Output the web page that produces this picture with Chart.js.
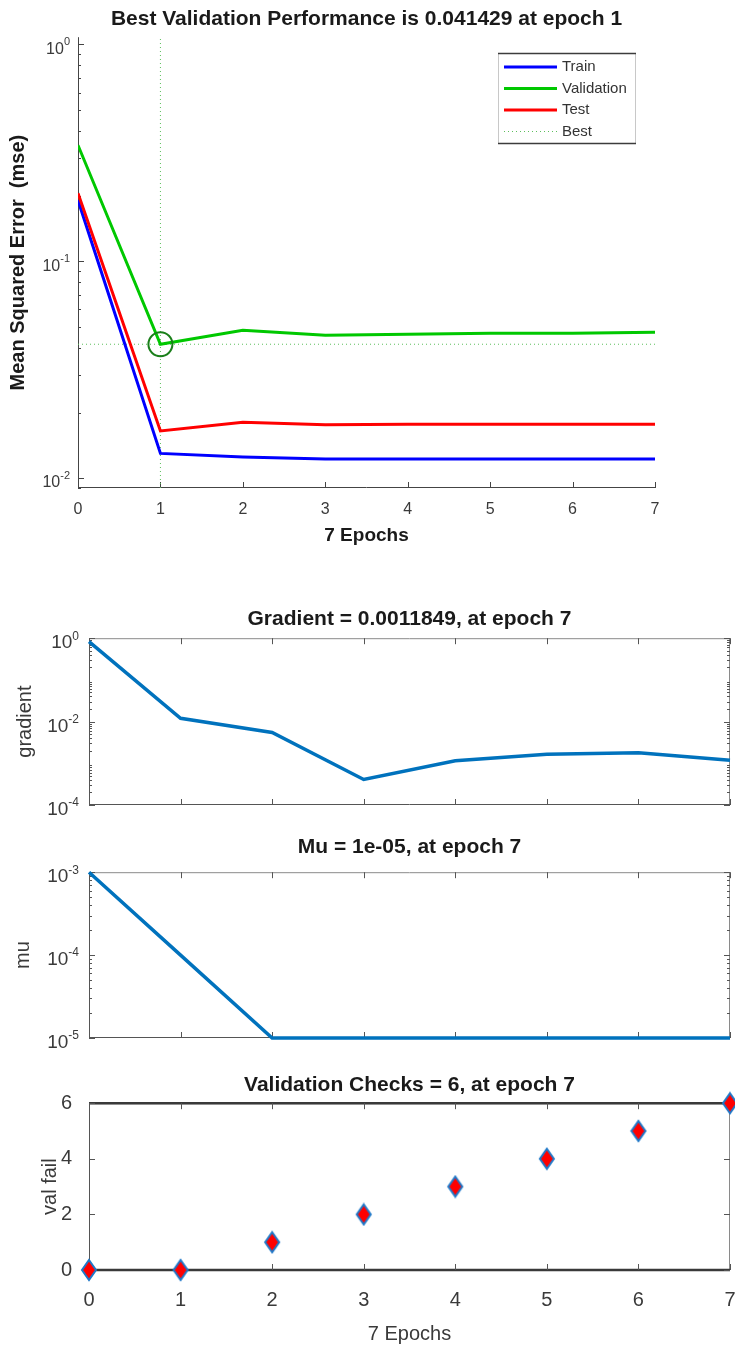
<!DOCTYPE html>
<html>
<head>
<meta charset="utf-8">
<title>Training record</title>
<script src="https://cdn.jsdelivr.net/npm/chart.js@4.4.1/dist/chart.umd.min.js"></script>
<style>
body{margin:0;background:#fff;width:735px;height:1348px;position:relative;overflow:hidden;}
canvas{position:absolute;left:0;}
</style>
</head>
<body>
<canvas id="perf" width="735" height="560" style="top:0"></canvas>
<canvas id="grad" width="735" height="240" style="top:590px"></canvas>
<canvas id="mu" width="735" height="230" style="top:830px"></canvas>
<canvas id="fail" width="735" height="288" style="top:1060px"></canvas>
<script>
// training record, one value per epoch
const epochs = [0, 1, 2, 3, 4, 5, 6, 7];
const trainMse = [0.191, 0.0130, 0.0125, 0.01224, 0.01224, 0.01224, 0.01224, 0.01224];
const valMse = [0.343, 0.041429, 0.0481, 0.0456, 0.0461, 0.0466, 0.0466, 0.0471];
const testMse = [0.206, 0.0165, 0.0181, 0.0176, 0.0177, 0.0177, 0.0177, 0.0177];
const bestEpoch = 1;
const bestPerf = 0.041429;
const gradient = [0.83, 0.012, 0.0055, 0.00041, 0.00115, 0.00165, 0.0018, 0.0011849];
const mu = [1e-3, 1e-4, 1e-5, 1e-5, 1e-5, 1e-5, 1e-5, 1e-5];
const valFail = [0, 0, 1, 2, 3, 4, 5, 6];

const perfTicks = [1, 0.1, 0.01];
const gradTicks = [1, 0.01, 0.0001];
const muTicks = [1e-3, 1e-4, 1e-5];
const failTicks = [0, 2, 4, 6];

const perfMin = 0.009, perfMax = 1.08;

const FONT = '"Liberation Sans", Arial, Helvetica, sans-serif';
Chart.defaults.font.family = FONT;
Chart.defaults.color = '#333';
Chart.defaults.animation = false;

const toXY = arr => arr.map((v, i) => ({x: epochs[i], y: v}));
const fixW = w => s => { s.width = w; };
// fixed height, and no extra side room for the end labels
const fixH = h => s => { s.height = h; s.paddingLeft = 0; s.paddingRight = 0; };

// matlab style axes: inward ticks, optional box, 10^n labels, legend
const axesDecor = {
  id: 'axesDecor',
  beforeDatasetsDraw(chart, args, o) {
    const {ctx, chartArea: a, scales: {x, y}} = chart;
    ctx.save();
    ctx.lineWidth = 1;
    if (o.box) {
      ctx.strokeStyle = o.boxColor;
      ctx.beginPath();
      ctx.moveTo(a.left, a.top + 0.5); ctx.lineTo(a.right, a.top + 0.5);
      ctx.moveTo(a.right - 0.5, a.top); ctx.lineTo(a.right - 0.5, a.bottom);
      ctx.stroke();
    }
    ctx.strokeStyle = o.axisColor;
    ctx.beginPath();
    ctx.moveTo(a.left + 0.5, a.top); ctx.lineTo(a.left + 0.5, a.bottom);
    ctx.moveTo(a.left, a.bottom - 0.5); ctx.lineTo(a.right, a.bottom - 0.5);
    ctx.stroke();
    if (o.heavy) {
      ctx.lineWidth = 2.5;
      ctx.strokeStyle = '#3a3a3a';
      ctx.beginPath();
      ctx.moveTo(a.left, a.top); ctx.lineTo(a.right, a.top);
      ctx.moveTo(a.left, a.bottom); ctx.lineTo(a.right, a.bottom);
      ctx.stroke();
    }
    // tick marks
    ctx.lineWidth = 1;
    ctx.strokeStyle = o.axisColor;
    ctx.beginPath();
    epochs.forEach(v => {
      const px = Math.round(x.getPixelForValue(v)) + 0.5;
      ctx.moveTo(px, a.bottom); ctx.lineTo(px, a.bottom - o.tickLen);
      if (o.box) { ctx.moveTo(px, a.top); ctx.lineTo(px, a.top + o.tickLen); }
    });
    const major = o.yTicks || [];
    major.forEach(v => {
      const py = Math.round(y.getPixelForValue(v)) + 0.5;
      ctx.moveTo(a.left, py); ctx.lineTo(a.left + o.tickLen, py);
      if (o.box) { ctx.moveTo(a.right, py); ctx.lineTo(a.right - o.tickLen, py); }
    });
    if (y.type === 'logarithmic') {
      const d0 = Math.floor(Math.log10(y.min)), d1 = Math.ceil(Math.log10(y.max));
      for (let d = d0; d <= d1; d++) {
        for (let k = 2; k <= 9; k++) {
          const v = k * Math.pow(10, d);
          if (v < y.min || v > y.max) continue;
          const py = Math.round(y.getPixelForValue(v)) + 0.5;
          ctx.moveTo(a.left, py); ctx.lineTo(a.left + o.tickLen / 2, py);
          if (o.box) { ctx.moveTo(a.right, py); ctx.lineTo(a.right - o.tickLen / 2, py); }
        }
      }
    }
    ctx.stroke();
    ctx.restore();
  },
  afterDraw(chart, args, o) {
    const {ctx, chartArea: a, scales: {y}} = chart;
    ctx.save();
    if (o.logLabels) {
      ctx.fillStyle = '#3a3a3a';
      ctx.textBaseline = 'middle';
      ctx.textAlign = 'right';
      o.yTicks.forEach(v => {
        const py = y.getPixelForValue(v);
        const e = String(Math.round(Math.log10(v)));
        const xr = a.left - o.labelGap;
        ctx.font = o.supSize + 'px ' + FONT;
        const ew = ctx.measureText(e).width;
        ctx.fillText(e, xr, py - 2);
        ctx.font = o.baseSize + 'px ' + FONT;
        ctx.fillText('10', xr - ew, py + 5);
      });
    }
    if (o.legend) {
      const L = o.legend;
      const items = chart.data.datasets.filter(ds => ds.inLegend);
      ctx.fillStyle = '#fff';
      ctx.fillRect(L.left, L.top, L.width, L.height);
      ctx.lineWidth = 1;
      ctx.strokeStyle = '#c8c8c8';
      ctx.beginPath();
      ctx.moveTo(L.left + 0.5, L.top); ctx.lineTo(L.left + 0.5, L.top + L.height);
      ctx.moveTo(L.left + L.width - 0.5, L.top); ctx.lineTo(L.left + L.width - 0.5, L.top + L.height);
      ctx.stroke();
      ctx.lineWidth = 1.5;
      ctx.strokeStyle = '#3c3c3c';
      ctx.beginPath();
      ctx.moveTo(L.left, L.top + 0.5); ctx.lineTo(L.left + L.width, L.top + 0.5);
      ctx.moveTo(L.left, L.top + L.height - 0.5); ctx.lineTo(L.left + L.width, L.top + L.height - 0.5);
      ctx.stroke();
      ctx.font = '15px ' + FONT;
      ctx.textAlign = 'left';
      ctx.textBaseline = 'middle';
      items.forEach((ds, i) => {
        const yy = L.top + 14 + i * 21.5;
        ctx.save();
        ctx.strokeStyle = ds.borderColor;
        ctx.lineWidth = ds.borderWidth;
        ctx.setLineDash(ds.borderDash || []);
        ctx.beginPath();
        ctx.moveTo(L.left + 6, yy); ctx.lineTo(L.left + 59, yy);
        ctx.stroke();
        ctx.restore();
        ctx.fillStyle = '#333';
        ctx.fillText(ds.label, L.left + 64, yy);
      });
    }
    ctx.restore();
  }
};

function diamond(w, h) {
  const c = document.createElement('canvas');
  c.width = w + 4; c.height = h + 4;
  const g = c.getContext('2d');
  g.beginPath();
  g.moveTo(c.width / 2, 2);
  g.lineTo(c.width - 2, c.height / 2);
  g.lineTo(c.width / 2, c.height - 2);
  g.lineTo(2, c.height / 2);
  g.closePath();
  g.fillStyle = '#ff0000';
  g.fill();
  g.lineWidth = 2;
  g.strokeStyle = '#1f78c8';
  g.stroke();
  return c;
}

const line = (data, color, width, extra) => Object.assign({
  data: data, borderColor: color, borderWidth: width, pointRadius: 0, fill: false, tension: 0
}, extra || {});

// performance
new Chart(document.getElementById('perf'), {
  type: 'line',
  data: {
    datasets: [
      line(toXY(trainMse), '#0000ff', 3, {label: 'Train', inLegend: true, order: 4}),
      line(toXY(valMse), '#00c800', 3, {label: 'Validation', inLegend: true, order: 3}),
      line(toXY(testMse), '#ff0000', 3, {label: 'Test', inLegend: true, order: 2}),
      line([{x: bestEpoch, y: perfMin}, {x: bestEpoch, y: perfMax}], '#5cbf5c', 1,
        {label: 'Best', inLegend: true, borderDash: [1, 3], order: 5}),
      line([{x: epochs[0], y: bestPerf}, {x: epochs[epochs.length - 1], y: bestPerf}], '#5cbf5c', 1,
        {label: 'Best', borderDash: [1, 3], order: 5}),
      {label: 'best point', data: [{x: bestEpoch, y: bestPerf}], showLine: false, pointRadius: 12,
        pointStyle: 'circle', pointBorderColor: '#1a7f1a', pointBackgroundColor: 'rgba(0,0,0,0)',
        pointBorderWidth: 2, clip: false, order: 1}
    ]
  },
  options: {
    responsive: false,
    layout: {autoPadding: false, padding: {left: 0, right: 80, top: 0, bottom: 0}},
    plugins: {
      legend: {display: false},
      tooltip: {enabled: false},
      title: {display: true, text: 'Best Validation Performance is 0.041429 at epoch 1', fullSize: false,
        font: {size: 21, weight: 'bold'}, color: '#1a1a1a', padding: {top: 7, bottom: 5}},
      axesDecor: {axisColor: '#444', tickLen: 6, yTicks: perfTicks, logLabels: true,
        labelGap: 8, baseSize: 16, supSize: 11,
        legend: {left: 498, top: 53, width: 138, height: 91}}
    },
    scales: {
      x: {type: 'linear', min: 0, max: 7, afterFit: fixH(72),
        grid: {display: false}, border: {display: false},
        ticks: {stepSize: 1, padding: 4, font: {size: 16}, color: '#3a3a3a'},
        title: {display: true, text: '7 Epochs', font: {size: 19, weight: 'bold'}, color: '#1a1a1a',
          padding: {bottom: 13}}},
      y: {type: 'logarithmic', min: perfMin, max: perfMax, afterFit: fixW(78),
        grid: {display: false}, border: {display: false}, ticks: {display: false},
        title: {display: true, text: 'Mean Squared Error  (mse)', font: {size: 20, weight: 'bold'},
          color: '#1a1a1a', padding: {top: 6}}}
    }
  },
  plugins: [axesDecor]
});

// lower panels share the epoch axis
function panel(id, opts) {
  return new Chart(document.getElementById(id), {
    type: 'line',
    data: {datasets: [opts.dataset]},
    options: {
      responsive: false,
      layout: {autoPadding: false, padding: {left: 0, right: 5, top: 0, bottom: 0}},
      plugins: {
        legend: {display: false},
        tooltip: {enabled: false},
        title: {display: true, text: opts.title, fullSize: false,
          font: {size: 21, weight: 'bold'}, color: '#1a1a1a', padding: opts.titlePad},
        axesDecor: Object.assign({axisColor: '#555', boxColor: '#8a8a8a', box: true, tickLen: 6,
          labelGap: 10, baseSize: 19, supSize: 12}, opts.decor)
      },
      scales: {
        x: {type: 'linear', min: 0, max: 7, afterFit: fixH(opts.xHeight),
          grid: {display: false}, border: {display: false},
          ticks: Object.assign({stepSize: 1, display: false}, opts.xTicks || {}),
          title: opts.xTitle || {display: false}},
        y: Object.assign({afterFit: fixW(89), grid: {display: false}, border: {display: false},
          title: {display: true, text: opts.yTitle, font: {size: 20}, color: '#3a3a3a',
            padding: {top: opts.yTitlePad}}}, opts.y)
      }
    },
    plugins: [axesDecor]
  });
}

panel('grad', {
  title: 'Gradient = 0.0011849, at epoch 7',
  titlePad: {top: 17, bottom: 6},
  xHeight: 25,
  yTitle: 'gradient', yTitlePad: 13,
  y: {type: 'logarithmic', min: 1e-4, max: 1, ticks: {display: false}},
  decor: {yTicks: gradTicks, logLabels: true},
  dataset: line(toXY(gradient), '#0072bd', 3.5, {clip: false})
});

panel('mu', {
  title: 'Mu = 1e-05, at epoch 7',
  titlePad: {top: 5, bottom: 12},
  xHeight: 22,
  yTitle: 'mu', yTitlePad: 11,
  y: {type: 'logarithmic', min: 1e-5, max: 1e-3, ticks: {display: false}},
  decor: {yTicks: muTicks, logLabels: true},
  dataset: line(toXY(mu), '#0072bd', 3.5, {clip: false})
});

panel('fail', {
  title: 'Validation Checks = 6, at epoch 7',
  titlePad: {top: 13, bottom: 5},
  xHeight: 78,
  xTicks: {display: true, padding: 10, font: {size: 20}, color: '#3a3a3a'},
  xTitle: {display: true, text: '7 Epochs', font: {size: 20}, color: '#3a3a3a', padding: {bottom: 2}},
  yTitle: 'val fail', yTitlePad: 38,
  y: {type: 'linear', min: 0, max: 6,
    ticks: {stepSize: 2, padding: 9, font: {size: 20}, color: '#3a3a3a'}},
  decor: {yTicks: failTicks, heavy: true},
  dataset: {data: toXY(valFail), showLine: false, pointStyle: diamond(14, 20), pointRadius: 9, clip: false}
});
</script>
</body>
</html>
